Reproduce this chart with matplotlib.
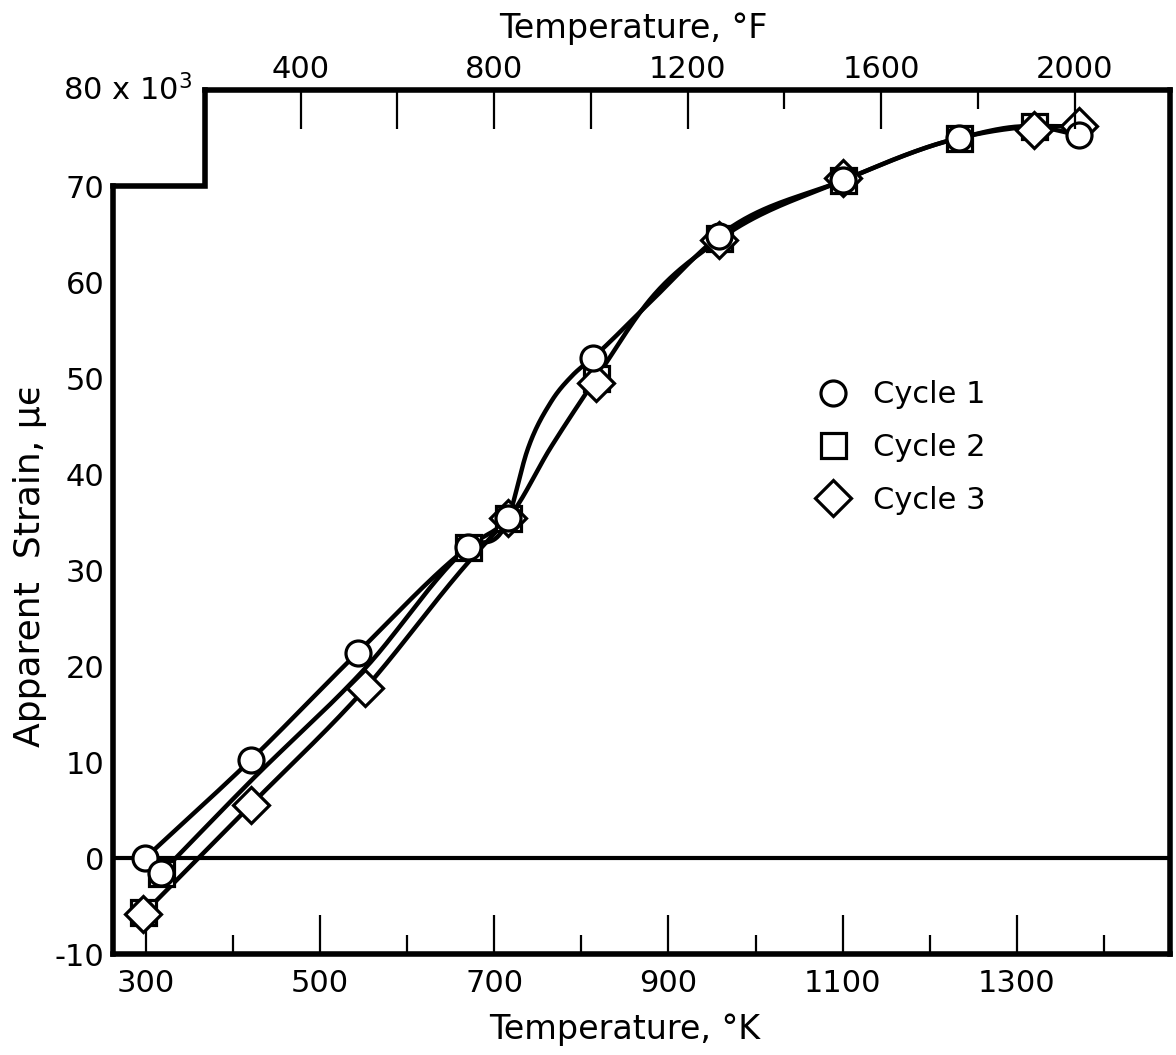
import numpy as np
import matplotlib
matplotlib.use("Agg")
import matplotlib.pyplot as plt
from matplotlib.ticker import FixedLocator, FixedFormatter

# Values: temperature in K, apparent strain in 10^3 microstrain
cycle1_temp = [299, 317, 420, 543, 670, 716, 813, 958, 1101, 1234, 1371]
cycle1_strain = [0.0, -1.6, 10.2, 21.4, 32.4, 35.4, 52.1, 64.8, 70.6, 75.0, 75.3]

cycle2_temp = [297, 317, 670, 716, 817, 958, 1101, 1234, 1320]
cycle2_strain = [-5.6, -1.6, 32.4, 35.4, 50.0, 64.6, 70.6, 75.0, 76.2]

cycle3_temp = [297, 420, 552, 716, 817, 958, 1101, 1320, 1371]
cycle3_strain = [-5.8, 5.5, 17.7, 35.4, 49.5, 64.4, 70.8, 75.8, 76.2]

# faired curves as drawn on the original
curve1_temp = [299, 420, 543, 670, 716, 738, 765, 790, 813, 880, 958, 1101, 1234, 1320, 1371]
curve1_strain = [0.0, 10.2, 21.4, 32.4, 35.4, 42.5, 47.5, 50.3, 52.1, 58.0, 64.8, 70.6, 75.0, 76.2, 75.3]
curve2_temp = [317, 420, 552, 670, 716, 765, 817, 880, 958, 1101, 1234, 1320, 1371]
curve2_strain = [-1.6, 8.0, 19.8, 32.4, 35.4, 42.8, 50.0, 58.3, 64.4, 70.6, 75.0, 76.2, 76.2]
curve3_temp = [297, 420, 552, 670, 716]
curve3_strain = [-5.8, 5.5, 17.7, 30.8, 35.4]

k_major = [300, 500, 700, 900, 1100, 1300]
k_minor = [400, 600, 800, 1000, 1200, 1400]
f_major = [400, 600, 800, 1000, 1200, 1600, 2000]
f_labels = ["400", "", "800", "", "1200", "1600", "2000"]
f_minor = [1400, 1800]
strain_ticks = [-10, 0, 10, 20, 30, 40, 50, 60, 70]

xmin, xmax = 262, 1476
step_x = 368

plt.rcParams['font.family'] = ['DejaVu Sans']
plt.rcParams['axes.unicode_minus'] = False
FS = 22


def k2f(k):
    return (np.asarray(k, float) - 273.15) * 9 / 5 + 32


def smooth(x, y, n=40):
    # cubic hermite through the read points
    x = np.asarray(x, float)
    y = np.asarray(y, float)
    m = np.gradient(y, x)
    xs, ys = [], []
    t = np.linspace(0, 1, n)
    h00 = 2 * t**3 - 3 * t**2 + 1
    h10 = t**3 - 2 * t**2 + t
    h01 = -2 * t**3 + 3 * t**2
    h11 = t**3 - t**2
    for i in range(len(x) - 1):
        h = x[i + 1] - x[i]
        xs.append(x[i] + t * h)
        ys.append(h00 * y[i] + h10 * h * m[i] + h01 * y[i + 1] + h11 * h * m[i + 1])
    return np.concatenate(xs), np.concatenate(ys)


fig = plt.figure(figsize=(11.76, 10.55), dpi=100)
ax = fig.add_axes([113 / 1176, 1 - 954 / 1055, (1170 - 113) / 1176, (954 - 90) / 1055])
ax.set_xlim(xmin, xmax)
ax.set_ylim(-10, 80)

# frame
lw_frame = 4
for s in ax.spines.values():
    s.set_linewidth(lw_frame)
ax.spines['left'].set_bounds(-10, 70)
ax.spines['top'].set_bounds(step_x, xmax)
ax.plot([xmin, step_x, step_x], [70, 70, 80], color='k', lw=lw_frame,
        clip_on=False, solid_joinstyle='miter', solid_capstyle='projecting')
ax.axhline(0, color='k', lw=3, zorder=1)

# curves
for ct, cs in [(curve1_temp, curve1_strain), (curve2_temp, curve2_strain),
               (curve3_temp, curve3_strain)]:
    sx, sy = smooth(ct, cs)
    ax.plot(sx, sy, color='k', lw=3.2, zorder=2)

mk = dict(ls='none', mfc='white', mec='k', ms=18, mew=2.3)
ax.plot(cycle2_temp, cycle2_strain, marker='s', zorder=3, **mk)
ax.plot(cycle3_temp, cycle3_strain, marker='D', zorder=4, **mk)
ax.plot(cycle1_temp, cycle1_strain, marker='o', zorder=5, **mk)

# legend
h1, = ax.plot([], [], marker='o', **mk)
h2, = ax.plot([], [], marker='s', **mk)
h3, = ax.plot([], [], marker='D', **mk)
ax.legend([h1, h2, h3], ["Cycle 1", "Cycle 2", "Cycle 3"], loc='upper left',
          bbox_to_anchor=(0.667, 0.664), frameon=False, fontsize=FS,
          borderpad=0, handlelength=1.0, handletextpad=0.8, labelspacing=0.78,
          borderaxespad=0)

# bottom axis (K)
ax.xaxis.set_major_locator(FixedLocator(k_major))
ax.xaxis.set_minor_locator(FixedLocator(k_minor))
ax.tick_params(axis='x', which='major', direction='in', length=28, width=1.6,
               labelsize=FS, pad=11, top=False)
ax.tick_params(axis='x', which='minor', direction='in', length=14, width=1.6, top=False)
ax.set_xlabel("Temperature, °K", fontsize=24)
ax.xaxis.set_label_coords(0.484, -0.068)

# left axis
ax.set_yticks(strain_ticks)
ax.tick_params(axis='y', length=0, labelsize=FS, pad=6, right=False)
ax.annotate("80 x 10$^3$", xy=(0, 80), xycoords=('axes fraction', 'data'),
            xytext=(-50, 0), textcoords='offset pixels', ha='left', va='center',
            fontsize=FS, annotation_clip=False)
ax.set_ylabel("Apparent  Strain, μϵ", fontsize=26)
ax.yaxis.set_label_coords(-0.062, 0.45)

# top axis (F)
ax2 = ax.twiny()
ax2.set_xlim(k2f(xmin), k2f(xmax))
for s in ax2.spines.values():
    s.set_visible(False)
ax2.xaxis.set_major_locator(FixedLocator(f_major))
ax2.xaxis.set_major_formatter(FixedFormatter(f_labels))
ax2.xaxis.set_minor_locator(FixedLocator(f_minor))
ax2.tick_params(axis='x', which='major', direction='in', length=28, width=1.6,
                labelsize=FS, pad=4)
ax2.tick_params(axis='x', which='minor', direction='in', length=14, width=1.6)
ax2.set_xlabel("Temperature, °F", fontsize=24)
ax2.xaxis.set_label_coords(0.492, 1.06)

fig.savefig("out.png", dpi=100)
